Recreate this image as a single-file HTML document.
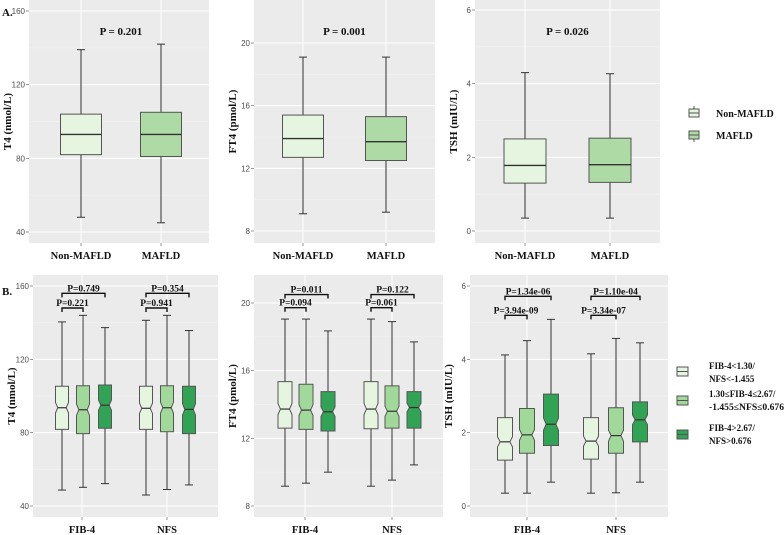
<!DOCTYPE html>
<html><head><meta charset="utf-8"><style>
html,body{margin:0;padding:0;background:#fff;}
svg{display:block;}
.tk{font-family:"Liberation Sans",sans-serif;font-size:8px;fill:#4d4d4d;}
.cat{font-family:"Liberation Serif",serif;font-size:10.5px;font-weight:bold;fill:#111;}
.yt{font-family:"Liberation Serif",serif;font-size:11px;font-weight:bold;fill:#111;}
.pv{font-family:"Liberation Serif",serif;font-size:11px;font-weight:bold;fill:#111;}
.pb{font-family:"Liberation Serif",serif;font-size:9.5px;font-weight:bold;fill:#111;}
.lg{font-family:"Liberation Serif",serif;font-size:10px;font-weight:bold;fill:#111;}
.lg2{font-family:"Liberation Serif",serif;font-size:9px;font-weight:bold;fill:#111;}
</style></head><body>
<svg id="fig" width="784" height="535" viewBox="0 0 784 535">
<text x="2" y="16" class="yt" font-size="12">A.</text>
<text x="2" y="295" class="yt" font-size="12">B.</text>
<g>
 <g><rect x="689" y="109" width="10" height="8" fill="#e5f5e0" stroke="#555"/><line x1="689" y1="113" x2="699" y2="113" stroke="#555"/><line x1="694" y1="106" x2="694" y2="109" stroke="#555"/><text x="716" y="117" class="lg">Non-MAFLD</text></g>
 <g><rect x="689" y="131" width="10" height="8" fill="#addaa5" stroke="#555"/><line x1="689" y1="135" x2="699" y2="135" stroke="#555"/><line x1="694" y1="139" x2="694" y2="142" stroke="#555"/><text x="716" y="139" class="lg">MAFLD</text></g>
</g>
<g>
 <g><rect x="677" y="367" width="11" height="9" fill="#e5f5e0" stroke="#555"/><line x1="677" y1="371.5" x2="688" y2="371.5" stroke="#555"/><text x="709" y="369" class="lg2">FIB-4&lt;1.30/</text><text x="709" y="382" class="lg2">NFS&lt;-1.455</text></g>
 <g><rect x="677" y="396" width="11" height="9" fill="#a1d99b" stroke="#555"/><line x1="677" y1="400.5" x2="688" y2="400.5" stroke="#555"/><text x="709" y="397" class="lg2">1.30≤FIB-4≤2.67/</text><text x="709" y="410" class="lg2" textLength="75" lengthAdjust="spacingAndGlyphs">-1.455≤NFS≤0.676</text></g>
 <g><rect x="677" y="430" width="11" height="9" fill="#31a354" stroke="#555"/><line x1="677" y1="434.5" x2="688" y2="434.5" stroke="#555"/><text x="709" y="431" class="lg2">FIB-4&gt;2.67/</text><text x="709" y="444" class="lg2">NFS&gt;0.676</text></g>
</g>
</svg>
<script>
// ---- data ----
const topCategories = ["Non-MAFLD","MAFLD"];
const t4TopMin=[48,45], t4TopQ1=[82,81], t4TopMed=[93,93], t4TopQ3=[104,105], t4TopMax=[139,142];
const ft4TopMin=[9.1,9.2], ft4TopQ1=[12.7,12.5], ft4TopMed=[13.9,13.7], ft4TopQ3=[15.4,15.3], ft4TopMax=[19.1,19.1];
const tshTopMin=[0.35,0.35], tshTopQ1=[1.3,1.32], tshTopMed=[1.78,1.8], tshTopQ3=[2.5,2.52], tshTopMax=[4.3,4.27];
const topPValues=["P = 0.201","P = 0.001","P = 0.026"];
const botCategories=["FIB-4","NFS"];
// per group order: [FIB g1,g2,g3, NFS g1,g2,g3]
const t4BotMin=[48.7,50.2,52.2,46,49,51.5], t4BotQ1=[81.8,79.5,82.4,81.8,80.5,79.5], t4BotMed=[93.6,92.5,95,93.3,93.6,92.7], t4BotQ3=[105.3,105.6,106,105.3,105.6,105.3], t4BotMax=[140.4,144,137.3,141.3,144,135.7];
const ft4BotMin=[9.17,9.35,10.0,9.17,9.53,10.43], ft4BotQ1=[12.6,12.53,12.43,12.57,12.6,12.6], ft4BotMed=[13.73,13.67,13.57,13.73,13.6,13.82], ft4BotQ3=[15.35,15.2,14.76,15.35,15.1,14.76], ft4BotMax=[19.05,19.05,18.35,19.05,18.9,17.7];
const tshBotMin=[0.35,0.35,0.65,0.35,0.36,0.65], tshBotQ1=[1.25,1.44,1.65,1.28,1.44,1.75], tshBotMed=[1.75,1.94,2.23,1.77,1.92,2.35], tshBotQ3=[2.41,2.66,3.05,2.41,2.68,2.84], tshBotMax=[4.12,4.51,5.09,4.15,4.57,4.45];
const t4Pvals=["P=0.221","P=0.749","P=0.941","P=0.354"];
const ft4Pvals=["P=0.094","P=0.011","P=0.061","P=0.122"];
const tshPvals=["P=3.94e-09","P=1.34e-06","P=3.34e-07","P=1.10e-04"];
const t4Brackets=[148,156], ft4Brackets=[19.72,20.5], tshBrackets=[5.2,5.72];
const t4Ticks=[40,80,120,160], ft4Ticks=[8,12,16,20], tshTicks=[0,2,4,6];

const NS="http://www.w3.org/2000/svg";
const svg=document.getElementById('fig');
function mk(tag,at,parent){const e=document.createElementNS(NS,tag);for(const k in at)e.setAttribute(k,at[k]);(parent||svg).appendChild(e);return e;}

function panel(o){
  const g=mk('g',{});
  
  
  const y=v=>o.py0+(v-o.t0)*(o.py1-o.py0)/(o.t1-o.t0);
  const bg=mk('rect',{x:o.x0,y:o.y0,width:o.x1-o.x0,height:o.y1-o.y0,fill:'#ebebeb'},g);
  
  
  const step=o.ticks[1]-o.ticks[0];
  for(let i=0;i<o.ticks.length-1;i++){const yy=y(o.ticks[i]+step/2);mk('line',{x1:o.x0,x2:o.x1,y1:yy,y2:yy,stroke:'#f5f5f5','stroke-width':0.5},g);}
  o.ticks.forEach(t=>{const yy=y(t);
    mk('line',{x1:o.x0,x2:o.x1,y1:yy,y2:yy,stroke:'#fff','stroke-width':1},g);
    mk('line',{x1:o.x0-3,x2:o.x0,y1:yy,y2:yy,stroke:'#333','stroke-width':0.5},g);
    const tx=mk('text',{x:o.x0-4,y:yy+3,'text-anchor':'end',class:'tk'},g);tx.textContent=t;
    
    
  });
  o.catX.forEach((cx,i)=>{
    mk('line',{x1:cx,x2:cx,y1:o.y0,y2:o.y1,stroke:'#fff','stroke-width':1},g);
    mk('line',{x1:cx,x2:cx,y1:o.y1,y2:o.y1+3,stroke:'#333','stroke-width':0.5},g);
    const t=mk('text',{x:cx,y:o.y1+16,'text-anchor':'middle',class:'cat'},g);t.textContent=o.cats[i];
    
    
  });
  const yt=mk('text',{x:0,y:0,'text-anchor':'middle',class:'yt',transform:`translate(${o.x0-18},${(o.y0+o.y1)/2}) rotate(-90)`},g);
  yt.textContent=o.ytitle;
  
  
  o.boxX.forEach((bx,i)=>{
    const bg2=mk('g',{},g);
    
    
    const w=o.bw/2, q1=y(o.q1[i]), q3=y(o.q3[i]), md=y(o.med[i]);
    mk('line',{x1:bx,x2:bx,y1:y(o.min[i]),y2:y(o.max[i]),stroke:'#333','stroke-width':1},bg2);
    if(o.caps){[o.min[i],o.max[i]].forEach(v=>mk('line',{x1:bx-4,x2:bx+4,y1:y(v),y2:y(v),stroke:'#333','stroke-width':1},bg2));}
    let d;
    if(o.notch){
      const nh=Math.abs(q1-q3)*0.12, ni=w*0.65;
      d=`M${bx-w},${q3}H${bx+w}V${md-nh}L${bx+ni},${md}L${bx+w},${md+nh}V${q1}H${bx-w}V${md+nh}L${bx-ni},${md}L${bx-w},${md-nh}Z`;
      mk('path',{d:d,fill:o.fill[i],stroke:'#555','stroke-width':1},bg2);
      mk('line',{x1:bx-ni,x2:bx+ni,y1:md,y2:md,stroke:'#333','stroke-width':1.2},bg2);
    } else {
      mk('rect',{x:bx-w,y:q3,width:o.bw,height:q1-q3,fill:o.fill[i],stroke:'#555','stroke-width':1},bg2);
      mk('line',{x1:bx-w,x2:bx+w,y1:md,y2:md,stroke:'#333','stroke-width':1.4},bg2);
    }
  });
  if(o.ptext){const t=mk('text',{x:(o.catX[0]+o.catX[1])/2,y:o.pty,'text-anchor':'middle',class:'pv'},g);t.textContent=o.ptext;
    
    }
  if(o.brackets){
    [0,1].forEach(gi=>{
      const xs=o.boxX.slice(gi*3,gi*3+3);
      [[xs[0],xs[1],o.brackets[0],o.pv[gi*2]],[xs[0],xs[2],o.brackets[1],o.pv[gi*2+1]]].forEach(b=>{
        const yy=y(b[2]);
        const p=mk('path',{d:`M${b[0]},${yy+4}V${yy}H${b[1]}V${yy+4}`,fill:'none',stroke:'#111','stroke-width':1.4},g);
        
        
        const t=mk('text',{x:(b[0]+b[1])/2,y:yy-2,'text-anchor':'middle',class:'pb'},g);t.textContent=b[3];
        
        
      });
    });
  }
}
const topFill=['#e5f5e0','#addaa5'];
const botFill=['#e5f5e0','#a1d99b','#31a354','#e5f5e0','#a1d99b','#31a354'];
panel({name:'panel-t4-top',x0:29,x1:209,y0:0,y1:243,py0:232,py1:11,t0:40,t1:160,ticks:t4Ticks,catX:[81,161],cats:topCategories,boxX:[81,161],bw:41,caps:true,fill:topFill,min:t4TopMin,q1:t4TopQ1,med:t4TopMed,q3:t4TopQ3,max:t4TopMax,ytitle:'T4 (nmol/L)',ptext:topPValues[0],pty:35});
panel({name:'panel-ft4-top',x0:254,x1:435,y0:0,y1:243,py0:231,py1:43,t0:8,t1:20,ticks:ft4Ticks,catX:[303,386],cats:topCategories,boxX:[303,386],bw:41,caps:true,fill:topFill,min:ft4TopMin,q1:ft4TopQ1,med:ft4TopMed,q3:ft4TopQ3,max:ft4TopMax,ytitle:'FT4 (pmol/L)',ptext:topPValues[1],pty:35});
panel({name:'panel-tsh-top',x0:475,x1:660,y0:0,y1:243,py0:231,py1:10,t0:0,t1:6,ticks:tshTicks,catX:[525,610],cats:topCategories,boxX:[525,610],bw:42,caps:true,fill:topFill,min:tshTopMin,q1:tshTopQ1,med:tshTopMed,q3:tshTopQ3,max:tshTopMax,ytitle:'TSH (mIU/L)',ptext:topPValues[2],pty:35});
function bx(c){return [c-21,c,c+22];}
panel({name:'panel-t4-bottom',x0:33,x1:218,y0:275,y1:517,py0:506,py1:286,t0:40,t1:160,ticks:t4Ticks,catX:[82,167],cats:botCategories,boxX:bx(83).concat(bx(167)),bw:13,caps:true,notch:true,fill:botFill,min:t4BotMin,q1:t4BotQ1,med:t4BotMed,q3:t4BotQ3,max:t4BotMax,ytitle:'T4 (nmol/L)',brackets:t4Brackets,pv:t4Pvals});
panel({name:'panel-ft4-bottom',x0:254,x1:443,y0:275,y1:517,py0:506,py1:303,t0:8,t1:20,ticks:ft4Ticks,catX:[305,392],cats:botCategories,boxX:bx(306).concat(bx(392)),bw:14,caps:true,notch:true,fill:botFill,min:ft4BotMin,q1:ft4BotQ1,med:ft4BotMed,q3:ft4BotQ3,max:ft4BotMax,ytitle:'FT4 (pmol/L)',brackets:ft4Brackets,pv:ft4Pvals});
panel({name:'panel-tsh-bottom',x0:470,x1:668,y0:275,y1:517,py0:506,py1:286,t0:0,t1:6,ticks:tshTicks,catX:[527,616],cats:botCategories,boxX:[505,527,551,591,616,640],bw:15,caps:true,notch:true,fill:botFill,min:tshBotMin,q1:tshBotQ1,med:tshBotMed,q3:tshBotQ3,max:tshBotMax,ytitle:'TSH (mIU/L)',brackets:tshBrackets,pv:tshPvals});
</script>
</body></html>
